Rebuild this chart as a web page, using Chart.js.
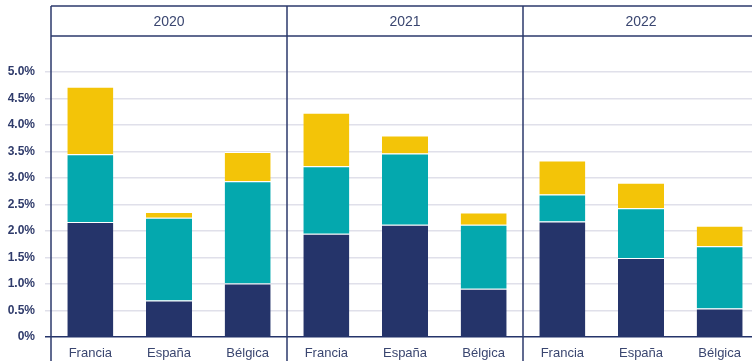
<!DOCTYPE html>
<html lang="es">
<head>
<meta charset="utf-8">
<title>Francia, España, Bélgica 2020-2022</title>
<script src="https://cdn.jsdelivr.net/npm/chart.js@4.4.1/dist/chart.umd.min.js"></script>
<style>
  html, body { margin: 0; padding: 0; background: #fff; overflow: hidden; }
  #wrap { width: 760px; height: 361px; }
</style>
</head>
<body>
<div id="wrap"><canvas id="chart" width="760" height="361"></canvas></div>
<script>
const years = ["2020", "2021", "2022"];
const countries = ["Francia", "España", "Bélgica"];

// one value per bar: 2020 F/E/B, 2021 F/E/B, 2022 F/E/B (in %)
const navyValues = [2.17, 0.69, 1.01, 1.95, 2.12, 0.91, 2.18, 1.49, 0.54];
const tealValues = [1.28, 1.56, 1.93, 1.27, 1.34, 1.21, 0.51, 0.94, 1.17];
const yellowValues = [1.27, 0.11, 0.55, 1.01, 0.34, 0.23, 0.64, 0.48, 0.39];

const yMax = 5;
const yStep = 0.5;

const NAVY = "#25346a";
const TEAL = "#04a8ae";
const YELLOW = "#f3c408";
const FRAME = "#2c3a6c";
const GRID = "#e0e0ea";
const TEXT = "#3a4670";

// boxes around each year plus the header row with the year
const panelFrame = {
  id: "panelFrame",
  afterDraw(chart) {
    const { ctx, chartArea, scales } = chart;
    const x = scales.x;
    const step = (chartArea.right - chartArea.left) / x.getLabels().length;
    const headerTop = 6;
    const headerBottom = 36;

    ctx.save();
    ctx.strokeStyle = FRAME;
    ctx.lineWidth = 1.5;

    ctx.beginPath();
    ctx.moveTo(chartArea.left, headerTop);
    ctx.lineTo(chartArea.right, headerTop);
    ctx.moveTo(chartArea.left, headerBottom);
    ctx.lineTo(chartArea.right, headerBottom);
    for (let i = 0; i <= years.length; i++) {
      const px = chartArea.left + i * countries.length * step;
      ctx.moveTo(px, headerTop);
      ctx.lineTo(px, chart.height);
    }
    ctx.stroke();

    ctx.fillStyle = TEXT;
    ctx.font = "14px 'Liberation Sans', Arial, sans-serif";
    ctx.textAlign = "center";
    ctx.textBaseline = "middle";
    years.forEach((yr, i) => {
      const cx = chartArea.left + (i + 0.5) * countries.length * step;
      ctx.fillText(yr, cx, (headerTop + headerBottom) / 2 + 1);
    });
    ctx.restore();
  },
};

const barStyle = {
  borderColor: "#ffffff",
  borderWidth: { top: 1, left: 0, right: 0, bottom: 0 },
  borderSkipped: false,
  barPercentage: 0.585,
  categoryPercentage: 1,
};

new Chart(document.getElementById("chart"), {
  type: "bar",
  data: {
    labels: years.flatMap(() => countries),
    datasets: [
      { label: "navy", data: navyValues, backgroundColor: NAVY, ...barStyle },
      { label: "teal", data: tealValues, backgroundColor: TEAL, ...barStyle },
      { label: "yellow", data: yellowValues, backgroundColor: YELLOW, ...barStyle },
    ],
  },
  options: {
    responsive: false,
    animation: false,
    layout: { padding: { top: 72, right: 1, left: 0, bottom: 0 } },
    plugins: {
      legend: { display: false },
      tooltip: { enabled: false },
    },
    scales: {
      x: {
        stacked: true,
        grid: { display: false, drawTicks: false },
        border: { display: false },
        ticks: {
          color: TEXT,
          padding: 9,
          font: { family: "'Liberation Sans', Arial, sans-serif", size: 13 },
        },
        afterFit: (scale) => { scale.height = 24; },
      },
      y: {
        stacked: true,
        min: 0,
        max: yMax,
        border: { display: false },
        grid: {
          color: (c) => (c.tick && c.tick.value === 0 ? NAVY : GRID),
          lineWidth: 1.5,
          tickLength: 6,
        },
        ticks: {
          stepSize: yStep,
          padding: 10,
          color: "#2f3b6b",
          font: { family: "'Liberation Sans', Arial, sans-serif", size: 12, weight: "bold" },
          callback: (v) => (v === 0 ? "0%" : v.toFixed(1) + "%"),
        },
        afterFit: (scale) => { scale.width = 51; },
      },
    },
  },
  plugins: [panelFrame],
});
</script>
</body>
</html>
